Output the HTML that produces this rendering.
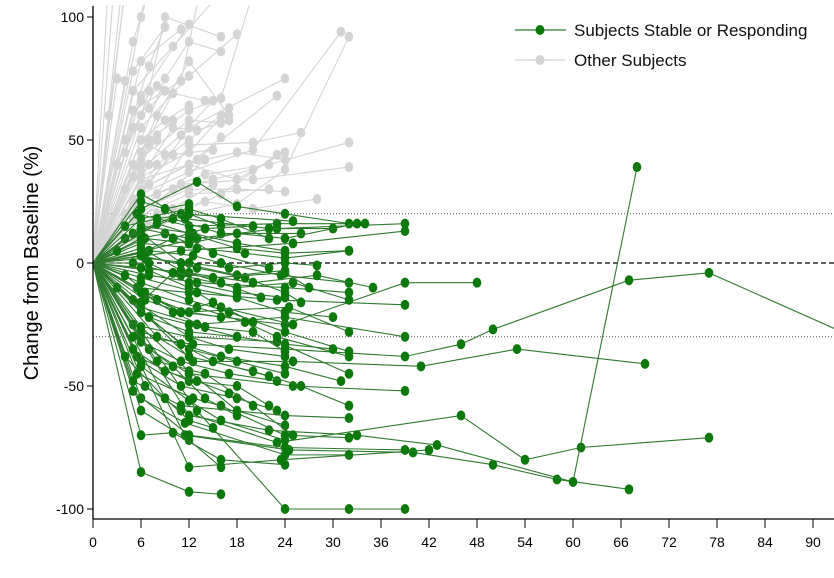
<!DOCTYPE html>
<html><head><meta charset="utf-8"><style>
html,body{margin:0;padding:0;background:#fff;}
svg{display:block;font-family:"Liberation Sans",Arial,sans-serif;}
</style></head><body>
<svg id="chart" width="834" height="578" viewBox="0 0 834 578" xmlns="http://www.w3.org/2000/svg">
<defs><clipPath id="pc"><rect x="93" y="5" width="741" height="514"/></clipPath></defs>
<g id="grid"></g>
<g id="gray" clip-path="url(#pc)"></g>
<g id="green" clip-path="url(#pc)"></g>
<g id="axes"></g>
<text transform="translate(38,263) rotate(-90)" text-anchor="middle" font-size="20" fill="#000">Change from Baseline (%)</text>
<g>
<g>
<line x1="515" y1="30" x2="566" y2="30" stroke="#2f7d2f" stroke-width="1.3"/>
<ellipse cx="540" cy="30" rx="4.5" ry="5" fill="#0b7a0b"/>
<text x="574" y="36" font-size="17" fill="#111">Subjects Stable or Responding</text></g>
<g>
<line x1="515" y1="60" x2="566" y2="60" stroke="#d3d3d3" stroke-width="1.3"/>
<ellipse cx="540" cy="60" rx="4.5" ry="5" fill="#d3d3d3"/>
<text x="574" y="66" font-size="17" fill="#111">Other Subjects</text></g>
</g>
</svg>
<script>
const xTicks=[0,6,12,18,24,30,36,42,48,54,60,66,72,78,84,90];
const yTicks=[100,50,0,-50,-100];
const refLines=[20,0,-30];
// each subject: "week,value week,value ..." (baseline 0,0 implied)
const greenSubjects=[
"6,-30 12.5,-33 24,-35 39,-38 46,-33 50,-27 67,-7 77,-4 95,-30",
"6.5,-50 11,-60 23,-73 46,-62 54,-80 61,-75 77,-71",
"11.5,-70 24.5,-76 40,-77 50,-82 58,-88 67,-92",
"12,-62 22,-68 33,-70 43,-74 60,-89 68,39",
"12.5,-40 25,-40 41,-42 53,-35 69,-41",
"11,-20 24,-25 39,-8 48,-8",
"12,-83 23.5,-80 42,-76",
"6,-85 12,-93 16,-94",
"13,-60 24,-100 32,-100 39,-100",
"13,10 23,14 39,16",
"11,5 25,8 39,13",
"5.5,20 12,15 23,16 34,16",
"6,22 13,33 18,23 24,20 32,16",
"5,12 11,20 25,17",
"6,28 11.5,18 22,14 30,14",
"4,10 10,18 16,12 26,12",
"7,-5 13,-8 24,-10 32,-12",
"5.5,-10 12,-12 23,-15 39,-17",
"6.5,-15 11,-20 24.5,-18 32,-28",
"6,-18 13,-25 24,-22 39,-30",
"5,-25 12,-30 23,-32 32,-45",
"6,-28 16,-38 24,-42 31,-48",
"7,-35 12,-45 25,-50 39,-52",
"6,-40 11,-50 18,-55 23,-60",
"5.5,-45 12.5,-55 16,-58 24,-70 32,-71",
"6,-55 11.5,-65 24,-78 32,-78",
"6,-60 12,-72 16,-83",
"6,-70 10,-69 16,-80 24,-82",
"5,-48 11,-58 24,-62 32,-63",
"5,-52 12,-70 24,-75 39,-76",
"6.5,2 12,0 17,-2 24,0 28,-1",
"7,5 12.5,3 16,0 23.5,-5 32,-8",
"6,8 13,6 19,4 24,2 32,5",
"5,0 11,-5 18,-10 25,-8 32,-15",
"6,-8 12,-15 17,-20 24,-28 32,-36",
"6.5,-12 13,-18 19,-24 23,-30 32,-38",
"6,-20 12,-35 18,-40 24,-45",
"7,-22 12,-28 18,-30 24,-33 30,-35",
"6,-32 11,-40 17,-45 23,-48",
"5.5,-38 12,-48 18,-50 22,-58",
"6,15 12.5,12 18,8 24,5",
"6,18 12,22 16,18 22,10",
"6.5,10 12,8 18,12 24,10 33,16",
"6,3 13,-2 19,-6 24,-12 26,-16",
"7,-3 12,-10 18,-14 24,-20 30,-22",
"6,12 11,0 18,-5 24,-3",
"5,-15 12,-30 17,-35 24,-38",
"6,-6 13,-12 16,-18 25,-25",
"6,-26 12,-44 18,-60 24,-66",
"6,-42 12,-56 16,-64 24,-72",
"3,-10 6,-20 12,-25 18,-30",
"3,5 6,10 9,12 12,8",
"4,-5 8,-15 12,-20 16,-22",
"4,15 8,18 12,20 16,15",
"6,25 9,22 12,24",
"8,16 12,12 18,6 24,4 32,5",
"6,-2 12,-4 20,-8 28,-5 35,-10",
"8,-30 12,-38 20,-44 26,-50 32,-58",
"8,-40 14,-45 20,-58 25,-70",
"10,-20 14,-26 20,-28 24,-36",
"5,-30 10,-42 14,-55 18,-62",
"6,6 11,-3 16,-8 21,-14",
"6,-12 11,-20 15,-16 20,-24",
"7,-22 11,-33 15,-40 22,-46",
"7,0 12,-8 18,-12 24,-14",
"6,14 12,10 15,4 22,-2",
"5,-35 9,-44 13,-48 17,-53",
"4,-38 9,-55 12,-64 15,-67",
"6,-16 10,-4 15,-6 24,-4 27,-10",
"6,4 10,10 14,14 20,15"
];
const graySubjects=[
"3,130","4,125","2,120","5,140","3,75","4,74","5,78 9,96","6,82 11,95","5,70 10,88 16,110",
"6,68 12,97","5,62 11,74 14,120","6,55 12,76 18,93","7,50 12,62 16,67 20,110","6,45 10,69 14,66",
"5,40 12,58 16,57","6,38 11,52 15,66","6,35 12,45 17,63","7,32 12,55 24,75","6,30 13,42 23,68",
"6,30 12,40 18,34 24,45","6,26 14,36 22,40 32,49","5,24 11,32 20,34 32,39","6,28 12,37 20,46 31,94",
"6,22 12,30 18,30 24,29","8,28 12,48 20,49 26,53","5,26 10,44 15,46","6,34 12,40 16,51",
"6,20 10,30 15,34 20,38","5,18 12,28 22,30","4,20 8,40 12,50 16,60","7,15 12,22 16,28 23,44",
"6,12 12,20 18,24 24,38 32,92","5,10 10,22 15,32","8,60 12,82 17,60","9,75 12,90 16,86",
"7,40 10,55 13,54 17,58","6,50 9,58 12,64","10,30 14,42 18,45 24,42","3,40 6,66","4,50 7,80 9,96",
"5,90 7,110","6,100 8,130","2,60 4,110","7,70 9,100 16,92","8,20 14,25 20,22 28,26",
"4,45 6,60 8,72","5,55 7,63 9,70","4,30 6,42 8,50","5,35 7,48 9,44","6,40 8,52 10,58"
];
const X=w=>93+w*8, Y=v=>263-v*2.46;
const NS="http://www.w3.org/2000/svg";
function mk(t,a,p){const e=document.createElementNS(NS,t);for(const k in a)e.setAttribute(k,a[k]);p.appendChild(e);return e;}
const parse=s=>[[0,0]].concat(s.split(" ").map(p=>p.split(",").map(Number)));
function drawSeries(list,g,lc,mc,name){
 list.forEach((s,i)=>{
  const pts=parse(s);
  const grp=mk("g",{},g);
  
  
  const pl=mk("polyline",{points:pts.map(p=>X(p[0])+","+Y(p[1])).join(" "),fill:"none",stroke:lc,"stroke-width":"1.1"},grp);
  
  
  pts.slice(1).forEach(p=>{
   const m=mk("ellipse",{cx:X(p[0]),cy:Y(p[1]),rx:4.3,ry:5,fill:mc},grp);
   
   
  });
 });
}
drawSeries(graySubjects,document.getElementById("gray"),"#d4d4d4","#d4d4d4","other-subject");
drawSeries(greenSubjects,document.getElementById("green"),"#2f7a2f","#0b7a0b","stable-subject");
const grid=document.getElementById("grid");
refLines.forEach(v=>{
 const l=mk("line",{x1:93,x2:834,y1:Y(v),y2:Y(v),stroke:v===0?"#000":"#555","stroke-width":v===0?1.2:1,"stroke-dasharray":v===0?"5,3":"1,2"},grid);
 
 
});
const ax=document.getElementById("axes");
const xa=mk("line",{x1:93,x2:834,y1:519,y2:519,stroke:"#000","stroke-width":1.3},ax);


const ya=mk("line",{x1:93,x2:93,y1:6,y2:519,stroke:"#000","stroke-width":1.3},ax);


xTicks.forEach(t=>{
 mk("line",{x1:X(t),x2:X(t),y1:519,y2:528,stroke:"#000","stroke-width":1},ax);
 const tx=mk("text",{x:X(t),y:547,"text-anchor":"middle","font-size":"14",fill:"#000"},ax);
 tx.textContent=t;
 
 
});
yTicks.forEach(t=>{
 mk("line",{x1:87,x2:93,y1:Y(t),y2:Y(t),stroke:"#000","stroke-width":1},ax);
 const tx=mk("text",{x:84,y:Y(t)+5,"text-anchor":"end","font-size":"14",fill:"#000"},ax);
 tx.textContent=t;
 
 
});
</script>
</body></html>
